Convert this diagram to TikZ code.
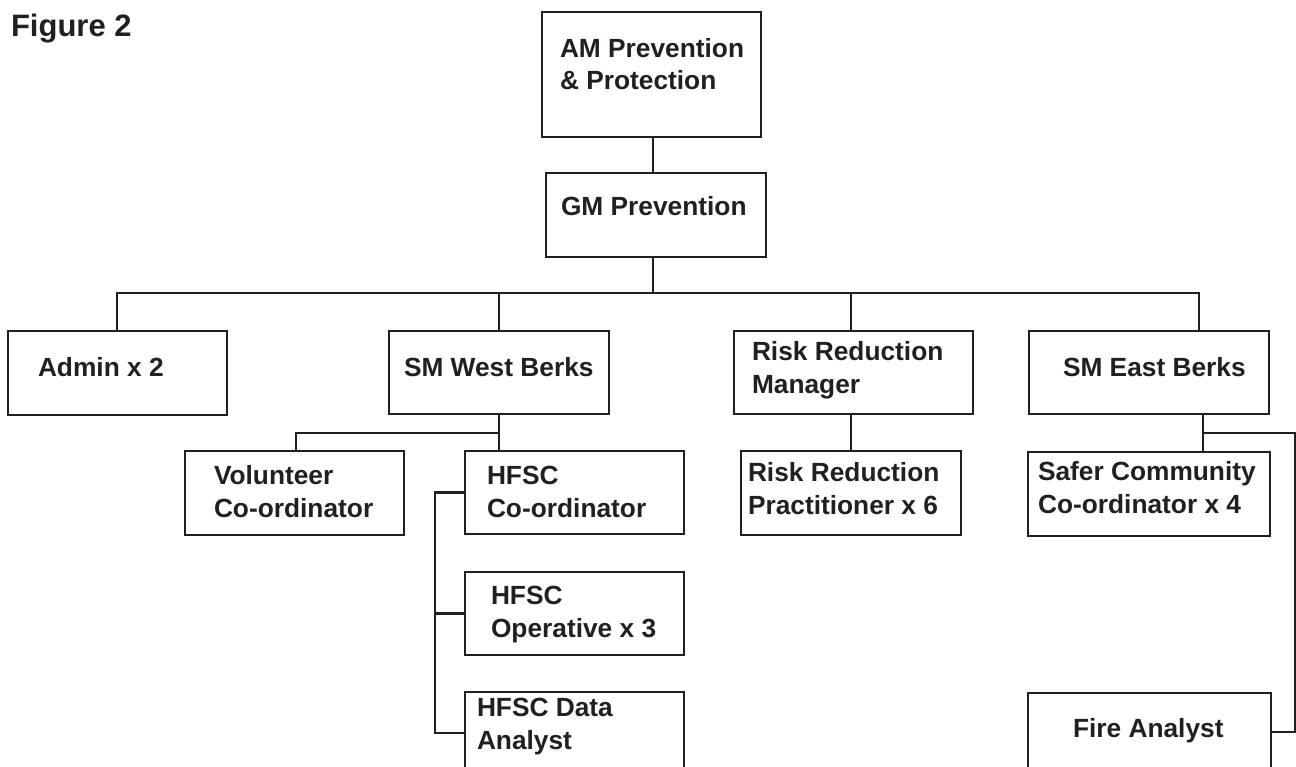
\documentclass[tikz,border=0pt]{standalone}
\usepackage{fontspec}
\setmainfont{Liberation Sans}
\definecolor{ink}{HTML}{231F20}
\begin{document}
\begin{tikzpicture}[x=1pt,y=-1pt,
  box/.style={draw=ink, line width=2.7pt, inner sep=0pt, outer sep=0pt},
  lbl/.style={anchor=base west, inner sep=0pt, outer sep=0pt, align=left, text=ink,
    font=\bfseries\fontsize{26.3}{32.5}\selectfont},
  conn/.style={draw=ink, line width=2.7pt}]
\clip (0,0) rectangle (1296,767);
\fill[white] (0,0) rectangle (1296,767);
\newcommand{\mkbox}[5]{\node[box, minimum width={#4-#2}, minimum height={#5-#3}] (#1) at ({(#2+#4)/2},{(#3+#5)/2}) {};}
% boxes
\mkbox{AM}{542}{12}{761}{137}
\mkbox{GM}{546}{173}{766}{257}
\mkbox{ADM}{8}{331}{227}{415}
\mkbox{SMW}{389}{331}{609}{414}
\mkbox{RRM}{734}{331}{973}{414}
\mkbox{SME}{1029}{331}{1269}{414}
\mkbox{VOL}{185}{451}{404}{535}
\mkbox{HCO}{465}{451}{684}{534}
\mkbox{RRP}{741}{451}{961}{535}
\mkbox{SCC}{1028}{452}{1270}{536}
\mkbox{HOP}{465}{572}{684}{655}
\mkbox{HDA}{465}{692}{684}{774}
\mkbox{FA}{1028}{693}{1271}{771}
% labels (anchor = baseline of last line)
\node[lbl, font=\bfseries\fontsize{31}{37}\selectfont] (fig) at (11,37) {Figure 2};
\node[lbl] (tAM) at (560,90) {AM Prevention\\\& Protection};
\node[lbl] (tGM) at (561,216) {GM Prevention};
\node[lbl] (tADM) at (38,376) {Admin x 2};
\node[lbl] (tSMW) at (404,376) {SM West Berks};
\node[lbl] (tRRM) at (752,393) {Risk Reduction\\Manager};
\node[lbl] (tSME) at (1063,376) {SM East Berks};
\node[lbl] (tVOL) at (214,517) {Volunteer\\Co-ordinator};
\node[lbl] (tHCO) at (487,517) {HFSC\\Co-ordinator};
\node[lbl] (tRRP) at (748,514) {Risk Reduction\\Practitioner x 6};
\node[lbl] (tSCC) at (1038,513) {Safer Community\\Co-ordinator x 4};
\node[lbl] (tHOP) at (491,637) {HFSC\\Operative x 3};
\node[lbl] (tHDA) at (477,749) {HFSC Data\\Analyst};
\node[lbl] (tFA) at (1073,737) {Fire Analyst};
% junction coordinates
\coordinate (busL) at (117,293);
\coordinate (busR) at (1199,293);
\coordinate (amx) at (653,0);
\coordinate (wbus) at (296,433);
\coordinate (wx) at (499,433);
\coordinate (rx) at (851,0);
\coordinate (ex) at (1203,433);
\coordinate (erx) at (1295,433);
\coordinate (hx) at (435,0);
% connectors
\draw[conn] (AM.south -| amx) -- (GM.north -| amx);
\draw[conn] (GM.south -| amx) -- (busL -| amx);
\draw[conn] (ADM.north -| busL) -- (busL) -- (busR) -- (SME.north -| busR);
\draw[conn] (SMW.north) -- (SMW.north |- busL);
\draw[conn] (RRM.north -| rx) -- (busL -| rx);
\draw[conn] (SMW.south -| wx) -- (HCO.north -| wx);
\draw[conn] (wx) -- (wbus) -- (VOL.north -| wbus);
\draw[conn] (RRM.south -| rx) -- (RRP.north -| rx);
\draw[conn] (HCO.west) -- (HCO.west -| hx) -- (HDA.west -| hx) -- (HDA.west);
\draw[conn] (HOP.west -| hx) -- (HOP.west);
\draw[conn] (SME.south -| ex) -- (SCC.north -| ex);
\draw[conn] (ex) -- (erx) -- (FA.east -| erx) -- (FA.east);
\end{tikzpicture}
\end{document}
